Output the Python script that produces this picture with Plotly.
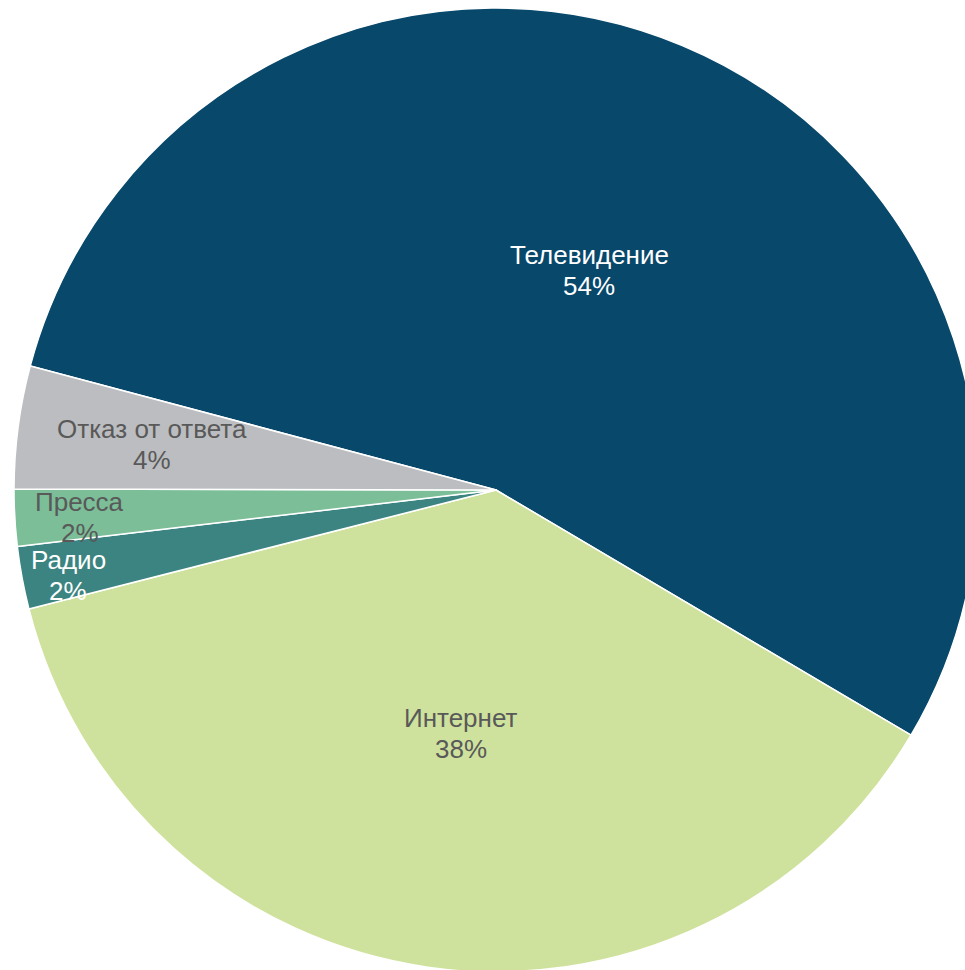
import math
import plotly.graph_objects as go

# Data
categories = ["Телевидение", "Интернет", "Радио", "Пресса", "Отказ от ответа"]
values = [54.3, 37.5, 2.1, 1.9, 4.1]

# Styles
colors = ["#08486B", "#CFE29D", "#3B8481", "#7BBE98", "#BCBDC0"]
text_colors = ["#FFFFFF", "#595959", "#FFFFFF", "#595959", "#595959"]
label_radius = [0.495, 0.51, 0.905, 0.865, 0.72]
label_angle_offset = [0.3, 0.0, -0.8, -0.5, 0.0]
start_angle = 284.9  # degrees clockwise from 12 o'clock

W, H = 980, 976
CX, CY, R = 496, 490, 482  # pie centre / radius in pixels
LINE_GAP = 31
FONT = dict(family="Liberation Sans, Arial, sans-serif", size=26)

fig = go.Figure(go.Pie(
    labels=categories,
    values=values,
    sort=False,
    direction="clockwise",
    rotation=start_angle - 360,
    marker=dict(colors=colors, line=dict(color="#FFFFFF", width=1.5)),
    textinfo="none",
    hoverinfo="label+percent",
    showlegend=False,
    domain=dict(x=[(CX - R) / W, (CX + R) / W], y=[1 - (CY + R) / H, 1 - (CY - R) / H]),
))

total = sum(values)
acc = 0.0
annotations = []
for cat, v, tc, f, da in zip(categories, values, text_colors, label_radius, label_angle_offset):
    mid = math.radians(start_angle + (acc + v / 2) / total * 360 + da)
    acc += v
    px = CX + f * R * math.sin(mid)
    py = CY - f * R * math.cos(mid)
    for txt, shift in ((cat, LINE_GAP / 2), (f"{round(v / total * 100)}%", -LINE_GAP / 2)):
        annotations.append(dict(
            x=px / W, y=1 - py / H, xref="paper", yref="paper",
            text=txt, yshift=shift,
            showarrow=False, xanchor="center", yanchor="middle",
            borderpad=0,
            font=dict(FONT, color=tc),
        ))

fig.update_layout(
    width=W, height=H,
    margin=dict(l=0, r=0, t=0, b=0),
    paper_bgcolor="white",
    plot_bgcolor="white",
    annotations=annotations,
)

fig.write_html(
    "out.html",
    config={"displayModeBar": False},
    post_script="document.body.style.margin='0';document.body.style.overflow='hidden';document.documentElement.style.overflow='hidden';",
)
